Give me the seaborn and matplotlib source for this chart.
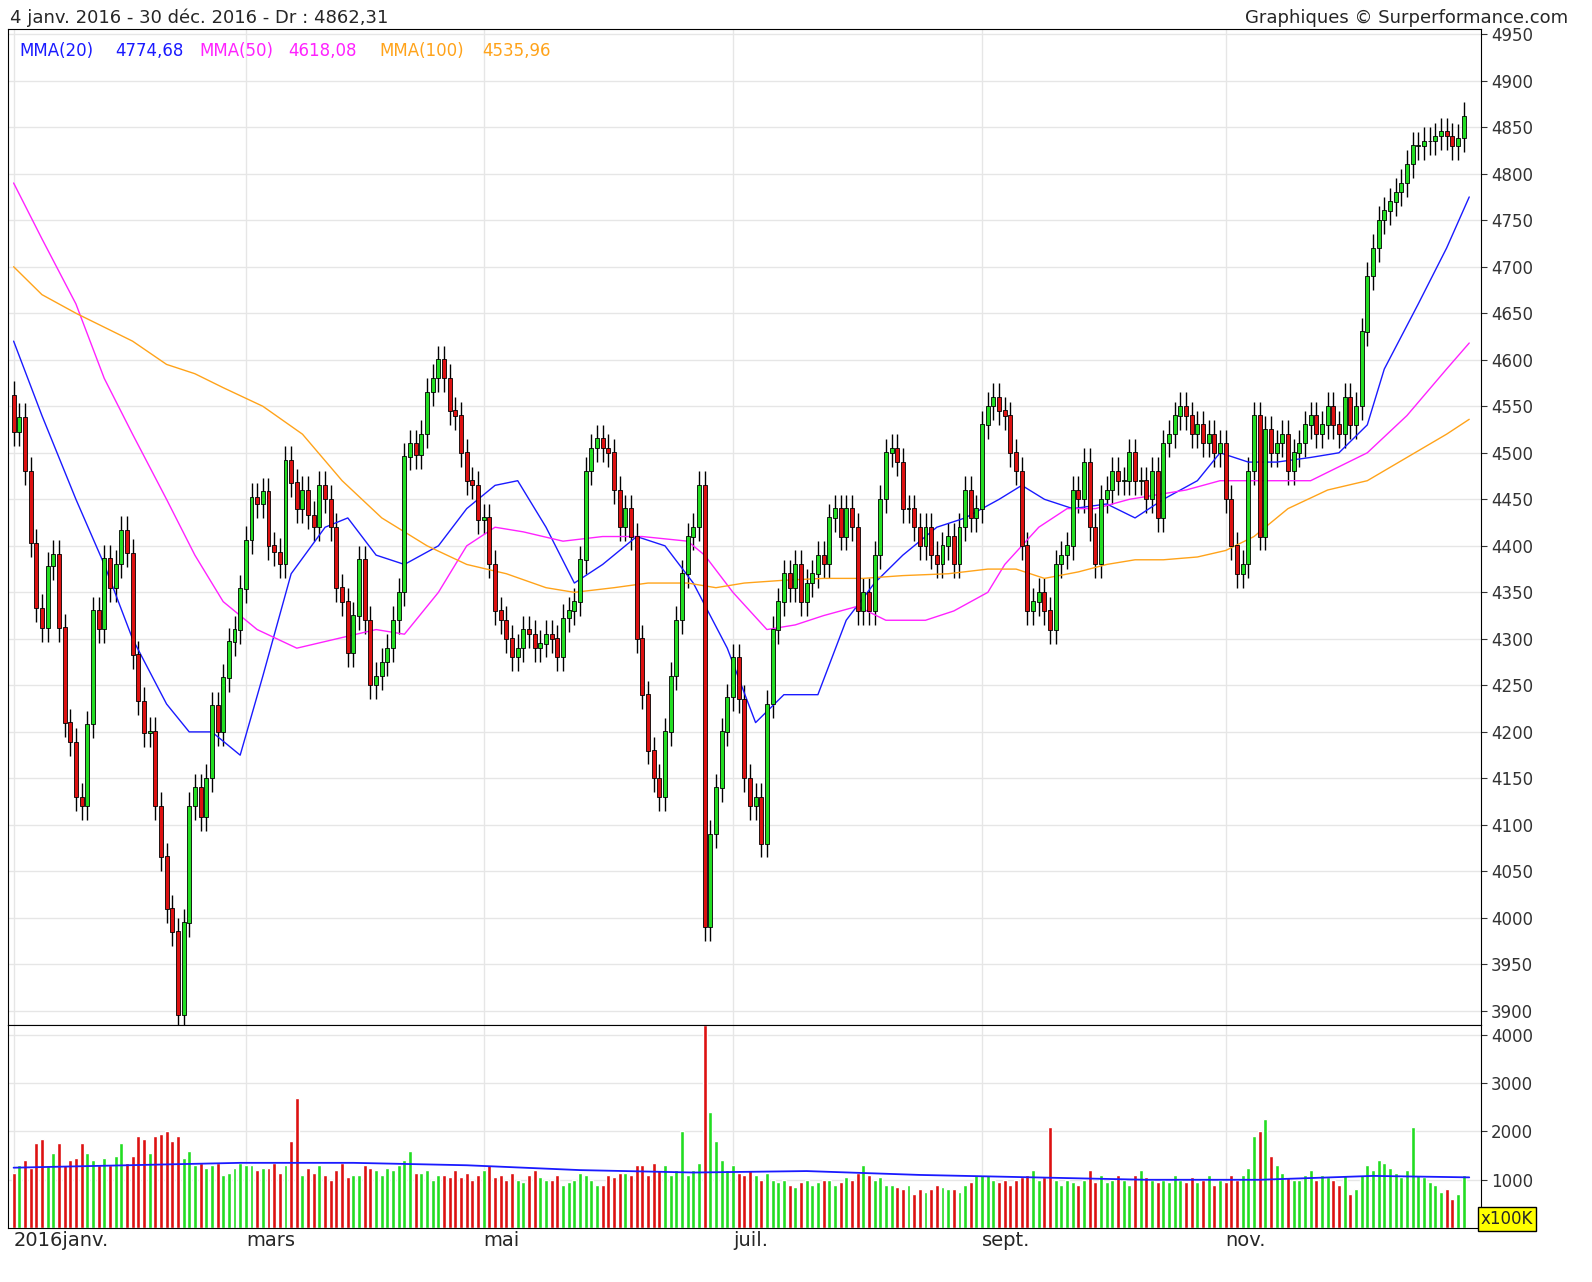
import numpy as np
import pandas as pd
import matplotlib
matplotlib.use("Agg")
import matplotlib.pyplot as plt
import seaborn as sns

# daily closes, 2016 (Euronext trading days)
close_jan = [4522, 4538, 4480, 4403, 4333, 4312, 4378, 4391, 4312, 4210, 4189, 4130, 4120, 4208, 4330, 4311, 4386, 4355, 4380, 4417]
close_feb = [4392, 4283, 4233, 4199, 4201, 4120, 4066, 4010, 3985, 3896, 3995, 4120, 4140, 4109, 4150, 4228, 4200, 4258, 4297, 4310, 4354]
close_mar = [4406, 4452, 4445, 4458, 4400, 4393, 4380, 4492, 4468, 4440, 4460, 4433, 4420, 4465, 4450, 4420, 4355, 4340, 4285, 4325, 4385]
close_apr = [4320, 4250, 4260, 4275, 4290, 4320, 4350, 4496, 4510, 4498, 4520, 4565, 4580, 4600, 4580, 4545, 4540, 4500, 4470, 4465, 4428]
close_may = [4430, 4380, 4330, 4320, 4300, 4280, 4290, 4310, 4305, 4290, 4295, 4305, 4300, 4280, 4322, 4330, 4340, 4385, 4480, 4505, 4515, 4505]
close_jun = [4500, 4460, 4420, 4440, 4410, 4300, 4240, 4180, 4150, 4130, 4200, 4260, 4320, 4370, 4410, 4420, 4465, 3990, 4090, 4140, 4200, 4237]
close_jul = [4280, 4235, 4150, 4120, 4130, 4080, 4230, 4310, 4340, 4370, 4355, 4380, 4340, 4360, 4370, 4390, 4380, 4430, 4440, 4410, 4440]
close_aug = [4420, 4330, 4350, 4330, 4390, 4450, 4500, 4505, 4490, 4440, 4440, 4420, 4400, 4420, 4390, 4380, 4400, 4410, 4380, 4420, 4460, 4430, 4440]
close_sep = [4530, 4550, 4560, 4545, 4540, 4500, 4480, 4400, 4330, 4340, 4350, 4330, 4310, 4380, 4390, 4400, 4460, 4450, 4490, 4420, 4380, 4450]
close_oct = [4460, 4480, 4470, 4470, 4500, 4470, 4470, 4450, 4480, 4430, 4510, 4520, 4540, 4550, 4540, 4520, 4530, 4510, 4520, 4500, 4510]
close_nov = [4450, 4400, 4370, 4380, 4480, 4540, 4410, 4525, 4500, 4510, 4520, 4480, 4500, 4510, 4530, 4540, 4520, 4530, 4550, 4530, 4520, 4560]
close_dec = [4530, 4550, 4630, 4690, 4720, 4750, 4760, 4770, 4780, 4790, 4810, 4830, 4830, 4835, 4835, 4840, 4845, 4840, 4830, 4838, 4862]

vol_jan = [1150, 1300, 1400, 1250, 1750, 1850, 1300, 1550, 1750, 1300, 1400, 1450, 1750, 1550, 1400, 1300, 1450, 1300, 1500, 1750]
vol_feb = [1350, 1500, 1900, 1850, 1550, 1900, 1950, 2000, 1800, 1900, 1450, 1600, 1300, 1350, 1250, 1300, 1350, 1100, 1150, 1250, 1350]
vol_mar = [1300, 1300, 1200, 1250, 1250, 1350, 1150, 1300, 1800, 2700, 1100, 1250, 1150, 1300, 1100, 1000, 1200, 1350, 1050, 1100, 1100]
vol_apr = [1300, 1250, 1200, 1100, 1250, 1200, 1300, 1400, 1600, 1150, 1150, 1200, 1000, 1100, 1100, 1050, 1200, 1050, 1150, 1000, 1100]
vol_may = [1200, 1300, 1050, 1100, 1000, 1150, 1000, 950, 1100, 1200, 1050, 1000, 1000, 1100, 900, 950, 1000, 1150, 1100, 1000, 900, 900]
vol_jun = [1100, 1050, 1150, 1150, 1100, 1300, 1300, 1100, 1350, 1200, 1300, 1100, 1200, 2000, 1100, 1200, 1350, 4200, 2400, 1800, 1400, 1200]
vol_jul = [1300, 1150, 1100, 1200, 1100, 1000, 1150, 1000, 950, 1000, 900, 850, 950, 1000, 900, 950, 1000, 1000, 900, 950, 1050]
vol_aug = [1000, 1150, 1300, 1100, 1000, 1050, 900, 900, 850, 800, 900, 700, 800, 750, 800, 900, 850, 800, 800, 750, 900, 950, 1100]
vol_sep = [1100, 1100, 1000, 950, 1000, 900, 1000, 1050, 1100, 1200, 1000, 1050, 2100, 1000, 900, 1000, 950, 900, 1000, 1200, 950, 1100]
vol_oct = [950, 1000, 1100, 1000, 900, 1100, 1200, 1050, 1000, 950, 1000, 950, 1100, 1000, 950, 1050, 950, 1000, 1100, 900, 1000]
vol_nov = [950, 1100, 1000, 1100, 1250, 1900, 2000, 2250, 1500, 1300, 1150, 1050, 1000, 1000, 1100, 1200, 1000, 1100, 1050, 1000, 900, 1100]
vol_dec = [700, 800, 1100, 1300, 1200, 1400, 1350, 1250, 1150, 1050, 1200, 2100, 1100, 1050, 950, 900, 750, 800, 600, 700, 1100]

# moving averages, sampled (trading-day index, value)
ma20_idx = [0, 5, 11, 16, 21, 27, 31, 35, 40, 44, 49, 55, 59, 64, 69, 75, 80, 85, 89, 94, 99, 104, 110, 115, 120, 126, 131, 136, 142, 147, 152, 157, 163, 168, 174, 178, 182, 187, 193, 198, 203, 209, 213, 218, 223, 229, 234, 239, 242, 248, 253, 257]
ma20_val = [4620, 4540, 4450, 4380, 4300, 4230, 4200, 4200, 4175, 4260, 4370, 4420, 4430, 4390, 4380, 4400, 4440, 4465, 4470, 4420, 4360, 4380, 4410, 4400, 4360, 4290, 4210, 4240, 4240, 4320, 4360, 4390, 4420, 4430, 4450, 4465, 4450, 4440, 4445, 4430, 4450, 4470, 4500, 4490, 4490, 4495, 4500, 4530, 4590, 4660, 4720, 4775]
ma50_idx = [0, 5, 11, 16, 21, 27, 32, 37, 43, 50, 57, 64, 69, 75, 80, 85, 90, 97, 104, 111, 119, 122, 127, 133, 138, 143, 149, 154, 161, 166, 172, 175, 181, 186, 191, 197, 202, 207, 213, 218, 223, 229, 234, 239, 246, 253, 257]
ma50_val = [4790, 4730, 4660, 4580, 4520, 4450, 4390, 4340, 4310, 4290, 4300, 4310, 4305, 4350, 4400, 4420, 4415, 4405, 4410, 4410, 4405, 4390, 4350, 4310, 4315, 4325, 4335, 4320, 4320, 4330, 4350, 4380, 4420, 4440, 4440, 4450, 4455, 4460, 4470, 4470, 4470, 4470, 4485, 4500, 4540, 4590, 4618]
ma100_idx = [0, 5, 11, 16, 21, 27, 32, 37, 44, 51, 58, 65, 73, 80, 87, 94, 99, 106, 112, 119, 124, 129, 136, 143, 150, 157, 165, 172, 177, 182, 188, 193, 198, 203, 209, 214, 219, 225, 232, 239, 246, 253, 257]
ma100_val = [4700, 4670, 4650, 4635, 4620, 4595, 4585, 4570, 4550, 4520, 4470, 4430, 4400, 4380, 4370, 4355, 4350, 4355, 4360, 4360, 4355, 4360, 4363, 4365, 4365, 4368, 4370, 4375, 4375, 4365, 4372, 4380, 4385, 4385, 4388, 4395, 4410, 4440, 4460, 4470, 4495, 4520, 4536]
volma_idx = [0, 20, 40, 60, 80, 100, 120, 140, 160, 180, 200, 220, 240, 257]
volma_val = [1250, 1300, 1350, 1350, 1300, 1200, 1150, 1180, 1100, 1050, 1000, 1000, 1080, 1050]

month_labels = ["2016janv.", "mars", "mai", "juil.", "sept.", "nov."]
month_starts = ["2016-01-04", "2016-03-01", "2016-05-02", "2016-07-01", "2016-09-01", "2016-11-01"]

closes = np.array(close_jan + close_feb + close_mar + close_apr + close_may + close_jun +
                  close_jul + close_aug + close_sep + close_oct + close_nov + close_dec, float)
vols = np.array(vol_jan + vol_feb + vol_mar + vol_apr + vol_may + vol_jun +
                vol_jul + vol_aug + vol_sep + vol_oct + vol_nov + vol_dec, float)
n = min(len(closes), len(vols))
closes, vols = closes[:n], vols[:n]
opens = np.r_[closes[0] + 40, closes[:-1]]
highs = np.maximum(opens, closes) + 15
lows = np.minimum(opens, closes) - 15
up = closes >= opens
x = np.arange(n)

days = pd.bdate_range("2016-01-04", "2016-12-30")
days = days.drop(pd.to_datetime(["2016-03-25", "2016-03-28", "2016-12-26"]))
month_pos = [days.get_loc(pd.Timestamp(d)) for d in month_starts]

sns.set_style("white")
fig = plt.figure(figsize=(15.92, 12.82), dpi=100)
ax = fig.add_axes([0.005, 0.2005, 0.925, 0.7765])
axv = fig.add_axes([0.005, 0.042, 0.925, 0.1585], sharex=ax)

green, red = "#22dd22", "#dd1111"
ax.vlines(x, lows, highs, color="black", lw=1, zorder=2)
ax.bar(x, np.abs(closes - opens) + 0.5, bottom=np.minimum(opens, closes), width=0.7,
       color=np.where(up, green, red), edgecolor="black", lw=0.6, zorder=3)
ax.plot(ma20_idx, ma20_val, color="#1a1aff", lw=1)
ax.plot(ma50_idx, ma50_val, color="#ff22ff", lw=1)
ax.plot(ma100_idx, ma100_val, color="#ffa31a", lw=1)

axv.bar(x, vols, width=0.7, color=np.where(up, green, red), zorder=2)
axv.plot(volma_idx, volma_val, color="#1a1aff", lw=1.3, zorder=3)

for a in (ax, axv):
    a.set_xlim(-1, n + 2)
    a.yaxis.tick_right()
    a.tick_params(axis="y", labelsize=12, length=4, direction="out", colors="#333333")
    for p in month_pos:
        a.axvline(p, color="#e6e6e6", lw=1, zorder=0)
    for s in a.spines.values():
        s.set_color("black")

ax.set_ylim(3885, 4955)
ax.set_yticks(np.arange(3900, 4951, 50))
for yv in np.arange(3900, 4951, 50):
    ax.axhline(yv, color="#e6e6e6", lw=1, zorder=0)
ax.tick_params(axis="x", bottom=False, labelbottom=False)

axv.set_ylim(0, 4200)
axv.set_yticks([1000, 2000, 3000, 4000])
for yv in [1000, 2000, 3000, 4000]:
    axv.axhline(yv, color="#e6e6e6", lw=1, zorder=0)
axv.set_xticks(month_pos)
axv.set_xticklabels(month_labels, fontsize=14)
axv.tick_params(axis="x", length=0, pad=2)
for lbl in axv.get_xticklabels():
    lbl.set_horizontalalignment("left")
axv.text(1.0, 0.0, "x100K", transform=axv.transAxes, fontsize=12, ha="left", va="bottom",
         bbox=dict(facecolor="#ffff00", edgecolor="black", pad=2))

fig.text(0.006, 0.986, "4 janv. 2016 - 30 déc. 2016 - Dr : 4862,31", fontsize=13, va="center")
fig.text(0.985, 0.986, "Graphiques © Surperformance.com", fontsize=13, va="center", ha="right")

leg = [("MMA(20)", "#1a1aff"), ("4774,68", "#1a1aff"), ("MMA(50)", "#ff22ff"), ("4618,08", "#ff22ff"),
       ("MMA(100)", "#ffa31a"), ("4535,96", "#ffa31a")]
xs = [0.008, 0.073, 0.13, 0.19, 0.252, 0.322]
for (t, c), xx in zip(leg, xs):
    ax.text(xx, 0.987, t, transform=ax.transAxes, color=c, fontsize=12, va="top")

fig.savefig("out.png", dpi=100, facecolor="white")
